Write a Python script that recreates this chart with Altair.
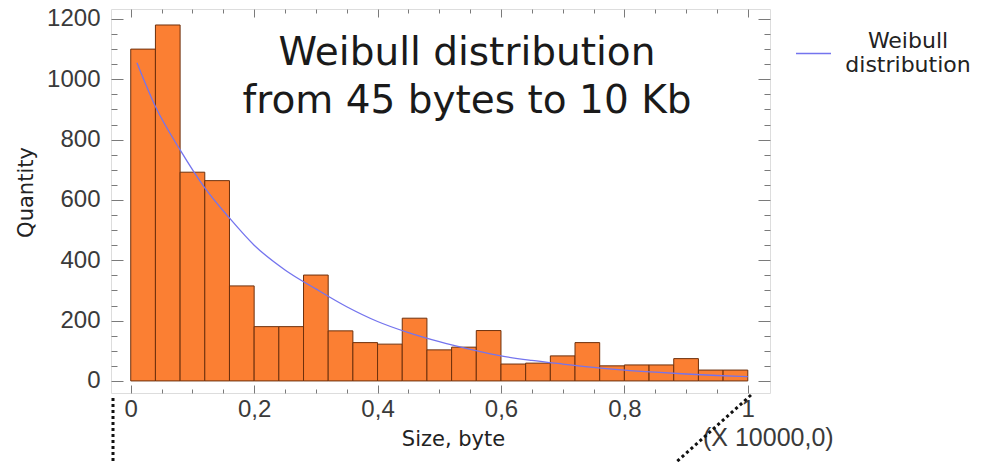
import altair as alt
import pandas as pd

# ---- data ----
bin_start = [0.00, 0.04, 0.08, 0.12, 0.16, 0.20, 0.24, 0.28, 0.32, 0.36, 0.40, 0.44,
             0.48, 0.52, 0.56, 0.60, 0.64, 0.68, 0.72, 0.76, 0.80, 0.84, 0.88, 0.92, 0.96]
bin_end = [0.04, 0.08, 0.12, 0.16, 0.20, 0.24, 0.28, 0.32, 0.36, 0.40, 0.44, 0.48,
           0.52, 0.56, 0.60, 0.64, 0.68, 0.72, 0.76, 0.80, 0.84, 0.88, 0.92, 0.96, 1.00]
counts = [1100, 1180, 692, 664, 315, 180, 180, 351, 166, 127, 122, 208,
          103, 112, 167, 56, 59, 83, 127, 50, 53, 53, 74, 36, 36]

curve_x = [0.01, 0.04, 0.08, 0.12, 0.16, 0.20, 0.25, 0.30, 0.35, 0.40, 0.45, 0.50,
           0.55, 0.60, 0.65, 0.70, 0.75, 0.80, 0.85, 0.90, 0.95, 1.00]
curve_y = [1055, 910, 766, 640, 540, 450, 368, 305, 246, 197, 160, 130,
           105, 83, 68, 56, 45, 36, 29, 23, 18, 14]
series_name = ["Weibull distribution"]

x_major = [0, 0.2, 0.4, 0.6, 0.8, 1]
x_minor = [0.05, 0.1, 0.15, 0.25, 0.3, 0.35, 0.45, 0.5, 0.55, 0.65, 0.7, 0.75, 0.85, 0.9, 0.95]
y_major = [0, 200, 400, 600, 800, 1000, 1200]
y_minor = [50, 100, 150, 250, 300, 350, 450, 500, 550, 650, 700, 750, 850, 900, 950,
           1050, 1100, 1150]

title_lines = ["Weibull distribution", "from 45 bytes to 10 Kb"]
x_title = "Size, byte"
y_title = "Quantity"
x_multiplier = "(X 10000,0)"

bars_df = pd.DataFrame({"start": bin_start, "end": bin_end, "count": counts})
curve_df = pd.DataFrame({"x": curve_x, "y": curve_y, "series": series_name * len(curve_x)})
one_row = pd.DataFrame({"k": [0]})

# ---- layout ----
W, H = 659, 384
XDOM = [-0.032, 1.036]
YDOM = [-40, 1233]
TICK = "#7a7a7a"
LABEL_FONT = "Liberation Sans"
TEXT_FONT = "DejaVu Sans"

xs = alt.Scale(domain=XDOM, nice=False, zero=False)
ys = alt.Scale(domain=YDOM, nice=False, zero=False)

# inward tick marks on all four sides are drawn as dashed grid lines
# (a short dash at each end of every grid line)
x_major_dash = [8, H - 16, 8, 60]
x_minor_dash = [4, H - 8, 4, 60]
y_major_dash = [12, W - 24, 12, 60]
y_minor_dash = [6, W - 12, 6, 60]

x_label_axis = alt.Axis(orient="bottom", values=x_major, ticks=False, domain=False,
                        grid=True, gridDash=x_major_dash, gridColor=TICK, gridWidth=1,
                        gridOpacity=1,
                        labelExpr="replace(format(datum.value, '~g'), '.', ',')",
                        labelFont=LABEL_FONT, labelFontSize=24, labelColor="#3a3a3a",
                        labelPadding=4, title=x_title, titleFont=TEXT_FONT, titleFontSize=21,
                        titleFontWeight="normal", titleColor="#222222", titleX=342,
                        titlePadding=7)
y_label_axis = alt.Axis(orient="left", values=y_major, ticks=False, domain=False,
                        grid=True, gridDash=y_major_dash, gridColor=TICK, gridWidth=1,
                        gridOpacity=1, format="d",
                        labelFont=LABEL_FONT, labelFontSize=24, labelColor="#3a3a3a",
                        labelPadding=11, title=y_title, titleFont=TEXT_FONT, titleFontSize=21,
                        titleFontWeight="normal", titleColor="#222222", titleY=183,
                        titlePadding=10)
x_minor_axis = alt.Axis(orient="top", values=x_minor, ticks=False, labels=False, domain=False,
                        grid=True, gridDash=x_minor_dash, gridColor=TICK, gridWidth=1,
                        gridOpacity=1, title=None)
y_minor_axis = alt.Axis(orient="right", values=y_minor, ticks=False, labels=False, domain=False,
                        grid=True, gridDash=y_minor_dash, gridColor=TICK, gridWidth=1,
                        gridOpacity=1, title=None)

bars = alt.Chart(bars_df).mark_bar(
    color="#fb7f33", stroke="#6e300c", strokeWidth=1, opacity=1
).encode(
    x=alt.X("start:Q", scale=xs, axis=x_label_axis),
    x2="end:Q",
    y=alt.Y("count:Q", scale=ys, axis=y_label_axis),
    y2=alt.datum(0),
)

curve = alt.Chart(curve_df).mark_line(strokeWidth=1.3, interpolate="monotone").encode(
    x=alt.X("x:Q", scale=xs, axis=x_minor_axis),
    y=alt.Y("y:Q", scale=ys, axis=y_minor_axis),
    color=alt.Color("series:N",
                    scale=alt.Scale(domain=series_name, range=["#7474ee"]),
                    legend=alt.Legend(orient="none", legendX=684, legendY=26, title=None,
                                      symbolType="stroke", symbolSize=1225,
                                      symbolStrokeWidth=1.5,
                                      labelExpr="['Weibull', 'distribution']",
                                      labelFont=TEXT_FONT, labelFontSize=22,
                                      labelColor="#222222", labelAlign="center",
                                      labelBaseline="line-bottom",
                                      labelOffset=76, labelLimit=400)),
)

title_text = alt.Chart(one_row).mark_text(
    text=title_lines, font=TEXT_FONT, fontSize=39, lineHeight=48, align="center",
    baseline="alphabetic", color="#1a1a1a"
).encode(x=alt.value(356), y=alt.value(56))

mult_text = alt.Chart(one_row).mark_text(
    text=x_multiplier, font=LABEL_FONT, fontSize=25, align="left",
    baseline="alphabetic", color="#3a3a3a"
).encode(x=alt.value(592), y=alt.value(437))

dot1 = alt.Chart(one_row).mark_rule(
    color="#111111", strokeWidth=3, strokeDash=[3, 3]
).encode(x=alt.value(2), y=alt.value(389), y2=alt.value(460))

dot2 = alt.Chart(one_row).mark_rule(
    color="#111111", strokeWidth=3, strokeDash=[3, 3]
).encode(x=alt.value(640), x2=alt.value(562), y=alt.value(386), y2=alt.value(456))

chart = alt.layer(
    bars, curve, title_text, mult_text, dot1, dot2
).resolve_axis(
    x="independent", y="independent"
).properties(
    width=W, height=H,
    autosize=alt.AutoSizeParams(type="none"),
    padding={"left": 111, "top": 9, "right": 215, "bottom": 69},
).configure_view(
    stroke="#8a8a8a", strokeWidth=1.5
).configure(background="white")

chart.save("out.html", embed_options={"renderer": "svg", "actions": False})
